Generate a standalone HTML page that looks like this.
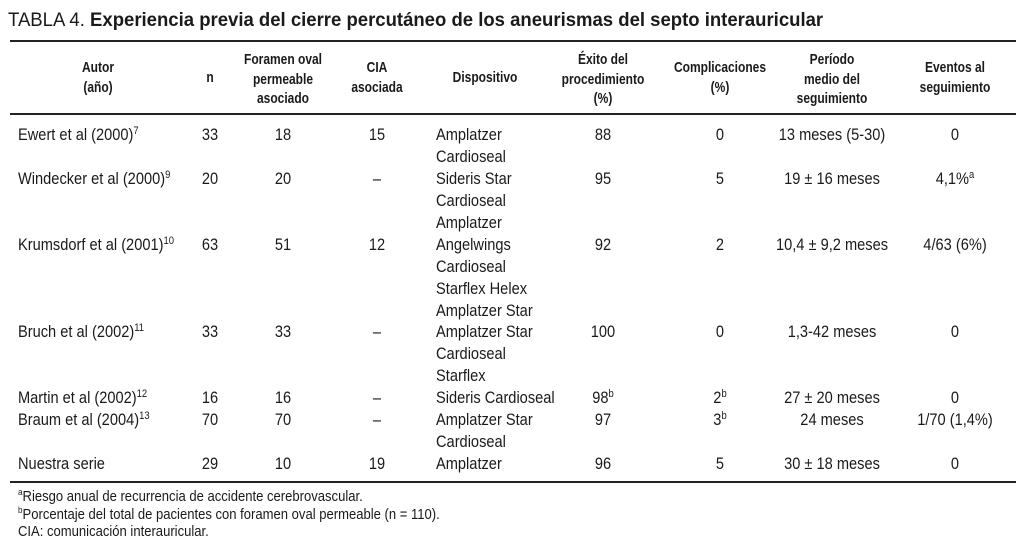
<!DOCTYPE html>
<html><head><meta charset="utf-8"><style>
body{margin:0;width:1024px;height:552px;background:#fff;position:relative;overflow:hidden;font-family:"Liberation Sans",sans-serif;color:#1a1a1a}
.t,.c,.h{position:absolute;white-space:nowrap;line-height:22px}
.h{line-height:19.5px}
.t{font-size:17px;transform-origin:0 50%;transform:scaleX(.86)}
.c{font-size:17px;transform:translateX(-50%) scaleX(.86)}
.h{font-size:15px;font-weight:bold;transform:translateX(-50%) scaleX(.8);text-align:center}
.f{position:absolute;white-space:nowrap;font-size:14.5px;line-height:18px;transform-origin:0 50%;transform:scaleX(.9)}
sup{font-size:11px;vertical-align:6px;line-height:0}
.rule{position:absolute;left:10px;width:1006px;background:#222}
</style></head><body>
<div class="t" style="left:8px;top:8px;font-size:19.5px;line-height:24px;transform:scaleX(.95)">TABLA 4. <b>Experiencia previa del cierre percutáneo de los aneurismas del septo interauricular</b></div>
<div class="rule" style="top:40px;height:2px"></div>
<div class="rule" style="top:113px;height:2px"></div>
<div class="rule" style="top:481px;height:2px"></div>

<div class="h" style="left:98px;top:58px">Autor<br>(año)</div>
<div class="h" style="left:210px;top:68px">n</div>
<div class="h" style="left:283px;top:50px">Foramen oval<br>permeable<br>asociado</div>
<div class="h" style="left:377px;top:58px">CIA<br>asociada</div>
<div class="h" style="left:485px;top:68px">Dispositivo</div>
<div class="h" style="left:603px;top:50px">Éxito del<br>procedimiento<br>(%)</div>
<div class="h" style="left:720px;top:58px">Complicaciones<br>(%)</div>
<div class="h" style="left:832px;top:50px">Período<br>medio del<br>seguimiento</div>
<div class="h" style="left:955px;top:58px">Eventos al<br>seguimiento</div>

<div class="t" style="left:18px;top:124px">Ewert et al (2000)<sup>7</sup></div>
<div class="c" style="left:210px;top:124px">33</div>
<div class="c" style="left:283px;top:124px">18</div>
<div class="c" style="left:377px;top:124px">15</div>
<div class="t" style="left:436px;top:124px">Amplatzer<br>Cardioseal</div>
<div class="c" style="left:603px;top:124px">88</div>
<div class="c" style="left:720px;top:124px">0</div>
<div class="c" style="left:832px;top:124px">13 meses (5-30)</div>
<div class="c" style="left:955px;top:124px">0</div>

<div class="t" style="left:18px;top:168px">Windecker et al (2000)<sup>9</sup></div>
<div class="c" style="left:210px;top:168px">20</div>
<div class="c" style="left:283px;top:168px">20</div>
<div class="c" style="left:377px;top:168px">–</div>
<div class="t" style="left:436px;top:168px">Sideris Star<br>Cardioseal<br>Amplatzer</div>
<div class="c" style="left:603px;top:168px">95</div>
<div class="c" style="left:720px;top:168px">5</div>
<div class="c" style="left:832px;top:168px">19 ± 16 meses</div>
<div class="c" style="left:955px;top:168px">4,1%<sup>a</sup></div>

<div class="t" style="left:18px;top:234px">Krumsdorf et al (2001)<sup>10</sup></div>
<div class="c" style="left:210px;top:234px">63</div>
<div class="c" style="left:283px;top:234px">51</div>
<div class="c" style="left:377px;top:234px">12</div>
<div class="t" style="left:436px;top:234px">Angelwings<br>Cardioseal<br>Starflex Helex<br>Amplatzer Star</div>
<div class="c" style="left:603px;top:234px">92</div>
<div class="c" style="left:720px;top:234px">2</div>
<div class="c" style="left:832px;top:234px">10,4 ± 9,2 meses</div>
<div class="c" style="left:955px;top:234px">4/63 (6%)</div>

<div class="t" style="left:18px;top:321px">Bruch et al (2002)<sup>11</sup></div>
<div class="c" style="left:210px;top:321px">33</div>
<div class="c" style="left:283px;top:321px">33</div>
<div class="c" style="left:377px;top:321px">–</div>
<div class="t" style="left:436px;top:321px">Amplatzer Star<br>Cardioseal<br>Starflex</div>
<div class="c" style="left:603px;top:321px">100</div>
<div class="c" style="left:720px;top:321px">0</div>
<div class="c" style="left:832px;top:321px">1,3-42 meses</div>
<div class="c" style="left:955px;top:321px">0</div>

<div class="t" style="left:18px;top:387px">Martin et al (2002)<sup>12</sup></div>
<div class="c" style="left:210px;top:387px">16</div>
<div class="c" style="left:283px;top:387px">16</div>
<div class="c" style="left:377px;top:387px">–</div>
<div class="t" style="left:436px;top:387px">Sideris Cardioseal</div>
<div class="c" style="left:603px;top:387px">98<sup>b</sup></div>
<div class="c" style="left:720px;top:387px">2<sup>b</sup></div>
<div class="c" style="left:832px;top:387px">27 ± 20 meses</div>
<div class="c" style="left:955px;top:387px">0</div>

<div class="t" style="left:18px;top:409px">Braum et al (2004)<sup>13</sup></div>
<div class="c" style="left:210px;top:409px">70</div>
<div class="c" style="left:283px;top:409px">70</div>
<div class="c" style="left:377px;top:409px">–</div>
<div class="t" style="left:436px;top:409px">Amplatzer Star<br>Cardioseal</div>
<div class="c" style="left:603px;top:409px">97</div>
<div class="c" style="left:720px;top:409px">3<sup>b</sup></div>
<div class="c" style="left:832px;top:409px">24 meses</div>
<div class="c" style="left:955px;top:409px">1/70 (1,4%)</div>

<div class="t" style="left:18px;top:453px">Nuestra serie</div>
<div class="c" style="left:210px;top:453px">29</div>
<div class="c" style="left:283px;top:453px">10</div>
<div class="c" style="left:377px;top:453px">19</div>
<div class="t" style="left:436px;top:453px">Amplatzer</div>
<div class="c" style="left:603px;top:453px">96</div>
<div class="c" style="left:720px;top:453px">5</div>
<div class="c" style="left:832px;top:453px">30 ± 18 meses</div>
<div class="c" style="left:955px;top:453px">0</div>

<div class="f" style="left:18px;top:488px"><sup style="font-size:9px">a</sup>Riesgo anual de recurrencia de accidente cerebrovascular.</div>
<div class="f" style="left:18px;top:506px"><sup style="font-size:9px">b</sup>Porcentaje del total de pacientes con foramen oval permeable (n = 110).</div>
<div class="f" style="left:18px;top:523px">CIA: comunicación interauricular.</div>
</body></html>
